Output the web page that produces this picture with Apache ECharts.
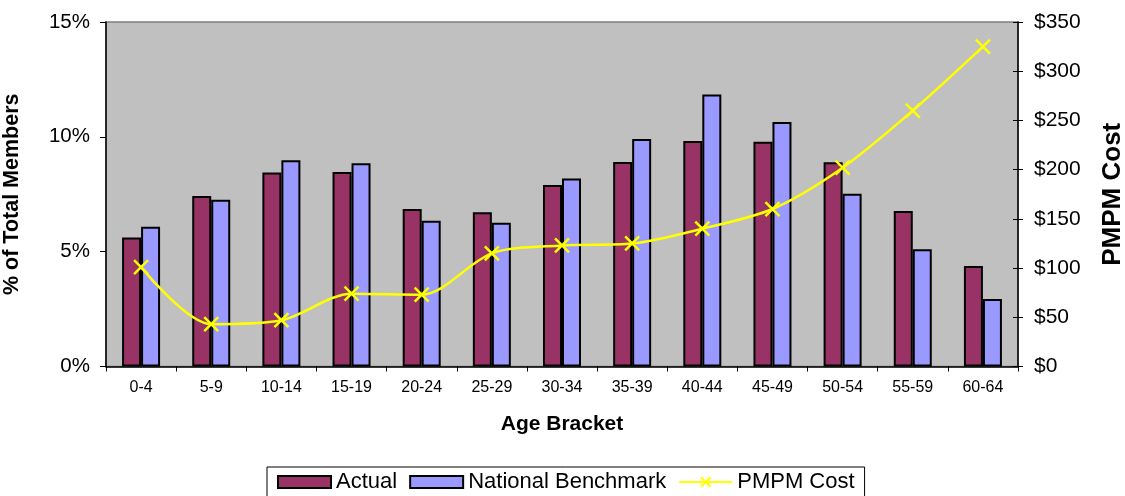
<!DOCTYPE html>
<html>
<head>
<meta charset="utf-8">
<script src="https://cdn.jsdelivr.net/npm/echarts@6/dist/echarts.min.js"></script>
<style>html,body{margin:0;padding:0;background:#fff;}#c{width:1125px;height:496px;}</style>
</head>
<body>
<div id="c"></div>
<script>
const categories = ['0-4','5-9','10-14','15-19','20-24','25-29','30-34','35-39','40-44','45-49','50-54','55-59','60-64'];
const actual = [5.62, 7.42, 8.45, 8.47, 6.86, 6.72, 7.90, 8.90, 9.82, 9.79, 8.89, 6.77, 4.38];
const benchmark = [6.08, 7.26, 8.98, 8.85, 6.35, 6.26, 8.19, 9.91, 11.84, 10.65, 7.52, 5.11, 2.94];
const pmpm = [101, 43, 47, 74, 73, 115, 123, 125, 140, 160, 202, 260, 325];
const leftTicks = {min: 0, max: 15, interval: 5};
const rightTicks = {min: 0, max: 350, interval: 50};

const FONT = 'Liberation Sans, Arial, sans-serif';
const chart = echarts.init(document.getElementById('c'));
chart.setOption({
  animation: false,
  textStyle: {fontFamily: FONT},
  grid: {left: 106, right: 107, top: 22, bottom: 129.5, show: true, containLabel: false, outerBoundsMode: 'none',
         backgroundColor: '#C0C0C0', borderColor: '#808080', borderWidth: 1.5},
  legend: {
    top: 467, left: 267,
    data: [{name: 'Actual', icon: 'rect'}, {name: 'National Benchmark', icon: 'rect'}, {name: 'PMPM Cost'}],
    itemWidth: 53, itemHeight: 12, itemGap: 12,
    borderColor: '#000', borderWidth: 1, backgroundColor: '#fff',
    padding: [4, 10, 6, 10],
    textStyle: {fontSize: 22, color: '#000', fontFamily: FONT}
  },
  xAxis: {
    type: 'category', data: categories,
    name: 'Age Bracket', nameLocation: 'middle', nameGap: 47,
    nameTextStyle: {fontSize: 21, fontWeight: 'bold', color: '#000'},
    axisLine: {lineStyle: {color: '#000', width: 1.5}},
    axisTick: {show: true, length: 5, lineStyle: {color: '#000'}},
    axisLabel: {fontSize: 16, color: '#000', margin: 13}
  },
  yAxis: [{
    type: 'value', min: leftTicks.min, max: leftTicks.max, interval: leftTicks.interval,
    name: '% of Total Members', nameLocation: 'middle', nameGap: 82.5,
    nameTextStyle: {fontSize: 21.5, fontWeight: 'bold', color: '#000'},
    axisLine: {show: true, lineStyle: {color: '#000', width: 1.5}},
    axisTick: {show: true, length: 6, lineStyle: {color: '#000'}},
    splitLine: {show: false},
    axisLabel: {fontSize: 20.5, color: '#000', margin: 16, formatter: v => v + '%'}
  }, {
    type: 'value', min: rightTicks.min, max: rightTicks.max, interval: rightTicks.interval,
    position: 'right',
    name: 'PMPM Cost', nameLocation: 'middle', nameGap: 82, nameRotate: 90,
    nameTextStyle: {fontSize: 26, fontWeight: 'bold', color: '#000'},
    axisLine: {show: true, lineStyle: {color: '#000', width: 1.5}},
    axisTick: {show: true, length: 5, lineStyle: {color: '#000'}},
    splitLine: {show: false},
    axisLabel: {fontSize: 21, color: '#000', margin: 16, formatter: v => '$' + v}
  }, {
    type: 'value', min: rightTicks.min, max: rightTicks.max, interval: rightTicks.interval,
    position: 'right',
    axisLine: {show: false},
    axisTick: {show: true, inside: true, length: 5, lineStyle: {color: '#000'}},
    splitLine: {show: false},
    axisLabel: {show: false}
  }],
  series: [{
    name: 'Actual', type: 'bar', data: actual, barWidth: 19, barGap: '0%',
    itemStyle: {color: '#993366', borderColor: '#000', borderWidth: 2}
  }, {
    name: 'National Benchmark', type: 'bar', data: benchmark, barWidth: 19,
    itemStyle: {color: '#9999FF', borderColor: '#000', borderWidth: 2}
  }, {
    name: 'PMPM Cost', type: 'line', yAxisIndex: 1, data: pmpm, smooth: 0.3,
    symbol: 'path://M0,0L10,10M10,0L0,10', symbolSize: 14,
    lineStyle: {color: '#FFFF00', width: 2.5},
    itemStyle: {color: 'none', borderColor: '#FFFF00', borderWidth: 2.5}
  }]
});
</script>
</body>
</html>
